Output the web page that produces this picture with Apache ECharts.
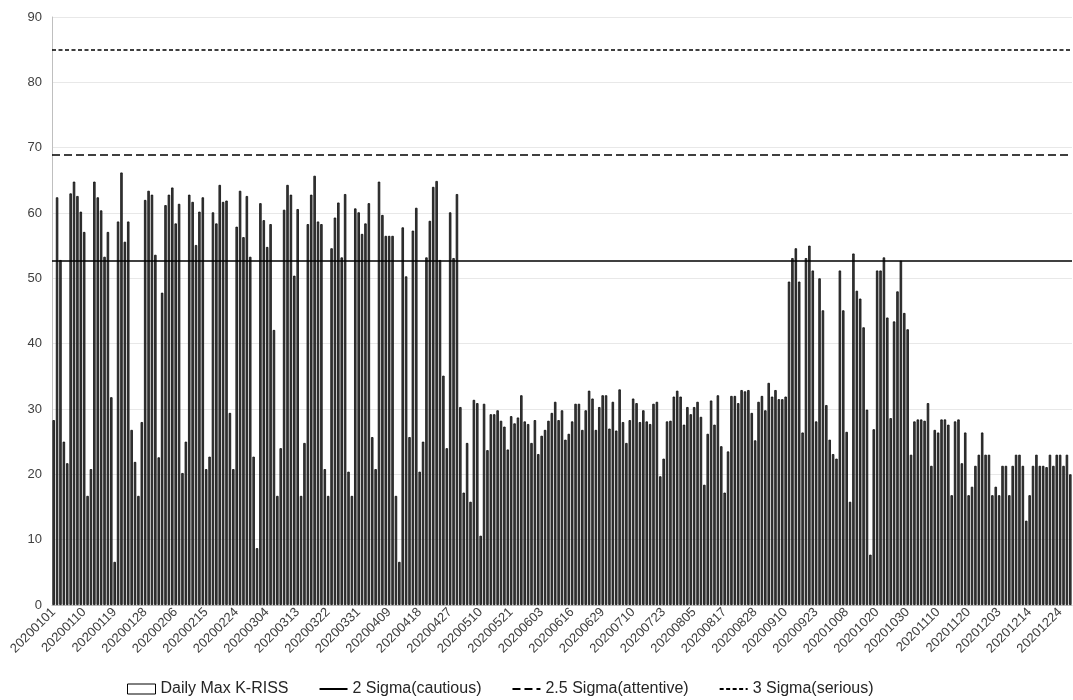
<!DOCTYPE html>
<html>
<head>
<meta charset="utf-8">
<script src="https://cdn.jsdelivr.net/npm/echarts@6/dist/echarts.min.js"></script>
<style>
  html, body { margin: 0; padding: 0; background: #ffffff; }
  #chart { width: 1073px; height: 700px; }
</style>
</head>
<body>
<div id="chart"></div>
<script>
// Dates shown on the category axis (every 9th record)
const tickDates = [
  '20200101','20200110','20200119','20200128','20200206','20200215','20200224',
  '20200304','20200313','20200322','20200331','20200409','20200418','20200427',
  '20200510','20200521','20200603','20200616','20200629','20200710','20200723',
  '20200805','20200817','20200828','20200910','20200923','20201008','20201020',
  '20201030','20201110','20201120','20201203','20201214','20201224'
];

// Daily maximum K-RISS index, one value per record
const dailyMax = [
  28.3, 62.4, 52.8, 25.0, 21.7, 63.0, 64.8, 62.6, 60.2, 57.1,
  16.7, 20.8, 64.8, 62.4, 60.4, 53.3, 57.1, 31.8, 6.6, 58.7,
  66.2, 55.6, 58.7, 26.8, 21.9, 16.7, 28.0, 62.0, 63.4, 62.8,
  53.6, 22.6, 47.8, 61.2, 62.8, 63.9, 58.4, 61.4, 20.2, 25.0,
  62.8, 61.7, 55.1, 60.2, 62.4, 20.8, 22.7, 60.1, 58.4, 64.3,
  61.7, 61.9, 29.4, 20.8, 57.9, 63.4, 56.3, 62.6, 53.3, 22.7,
  8.7, 61.5, 58.9, 54.8, 58.3, 42.1, 16.7, 24.0, 60.5, 64.3,
  62.8, 50.4, 60.6, 16.7, 24.8, 58.3, 62.8, 65.7, 58.7, 58.3,
  20.8, 16.7, 54.6, 59.3, 61.6, 53.2, 62.9, 20.4, 16.7, 60.7,
  60.1, 56.8, 58.4, 61.5, 25.7, 20.8, 64.8, 59.7, 56.5, 56.5,
  56.5, 16.7, 6.6, 57.8, 50.3, 25.7, 57.3, 60.8, 20.4, 25.0,
  53.2, 58.8, 64.0, 64.9, 52.8, 35.1, 24.0, 60.1, 53.1, 62.9,
  30.3, 17.2, 24.8, 15.8, 31.4, 30.9, 10.6, 30.8, 23.7, 29.2,
  29.2, 29.8, 28.2, 27.3, 23.8, 28.9, 27.8, 28.7, 32.1, 28.1,
  27.7, 24.8, 28.3, 23.1, 25.9, 26.8, 28.2, 29.4, 31.1, 28.3,
  29.8, 25.3, 26.2, 28.1, 30.8, 30.8, 26.8, 29.8, 32.8, 31.6,
  26.8, 30.3, 32.1, 32.1, 27.0, 31.1, 26.7, 33.0, 28.0, 24.8,
  28.3, 31.6, 30.9, 28.0, 29.8, 28.1, 27.7, 30.8, 31.1, 19.7,
  22.4, 28.1, 28.2, 31.9, 32.8, 31.9, 27.6, 30.3, 29.2, 30.3,
  31.1, 28.8, 18.4, 26.2, 31.3, 27.6, 32.1, 24.3, 17.2, 23.5,
  32.0, 32.0, 30.9, 32.9, 32.7, 32.9, 29.4, 25.2, 31.1, 32.0,
  29.8, 34.0, 31.9, 32.9, 31.5, 31.5, 31.9, 49.5, 53.1, 54.6,
  49.5, 26.4, 53.1, 55.0, 51.2, 28.1, 50.0, 45.1, 30.6, 25.3,
  23.1, 22.4, 51.2, 45.1, 26.5, 15.8, 53.8, 48.1, 46.9, 42.5,
  29.9, 7.7, 26.9, 51.2, 51.2, 53.2, 44.0, 28.6, 43.4, 48.0,
  52.7, 44.7, 42.2, 23.0, 28.1, 28.4, 28.4, 28.2, 30.9, 21.3,
  26.8, 26.4, 28.4, 28.4, 27.6, 16.8, 28.1, 28.4, 21.7, 26.4,
  16.8, 18.1, 21.3, 23.0, 26.4, 23.0, 23.0, 16.8, 18.1, 16.8,
  21.3, 21.3, 16.8, 21.3, 23.0, 23.0, 21.3, 12.9, 16.8, 21.3,
  23.0, 21.3, 21.3, 21.1, 23.0, 21.3, 23.0, 23.0, 21.3, 23.0,
  20.0
];

// Warning thresholds
const sigmaNames = ['2 Sigma(cautious)', '2.5 Sigma(attentive)', '3 Sigma(serious)'];
const sigmaLevels = [52.7, 68.9, 85.0];
const sigmaDash = ['solid', [8, 4], [4, 2.5]];

const barName = 'Daily Max K-RISS';
const STEP = 9;

function parseYmd(s) {
  return new Date(Date.UTC(+s.slice(0, 4), +s.slice(4, 6) - 1, +s.slice(6, 8)));
}
function fmtYmd(d) {
  const m = String(d.getUTCMonth() + 1).padStart(2, '0');
  const day = String(d.getUTCDate()).padStart(2, '0');
  return d.getUTCFullYear() + m + day;
}

// Record dates: labelled dates every 9th record, the records in between
// spread over the calendar gap between two labelled dates.
const categories = [];
for (let t = 0; t < tickDates.length; t++) {
  const start = parseYmd(tickDates[t]);
  const next = t + 1 < tickDates.length ? parseYmd(tickDates[t + 1]) : null;
  const span = next ? Math.round((next - start) / 86400000) : STEP;
  for (let k = 0; k < STEP && categories.length < dailyMax.length; k++) {
    const d = new Date(start.getTime() + Math.round(k * span / STEP) * 86400000);
    categories.push(fmtYmd(d));
  }
}

const FONT = 'Liberation Sans';
const chart = echarts.init(document.getElementById('chart'), null, { renderer: 'canvas' });

const series = [{
  name: barName,
  type: 'bar',
  data: dailyMax,
  barCategoryGap: '28%',
  itemStyle: { color: '#3f3f3f', borderColor: '#0a0a0a', borderWidth: 0.8 },
  emphasis: { disabled: true },
  silent: true
}];

sigmaLevels.forEach((lvl, i) => {
  series.push({
    name: sigmaNames[i],
    type: 'line',
    data: [],
    symbol: 'none',
    itemStyle: { color: '#000' },
    lineStyle: { color: '#000', width: 1.5, type: sigmaDash[i] },
    markLine: {
      silent: true,
      symbol: ['none', 'none'],
      label: { show: false },
      lineStyle: { color: '#000', width: 1.5, type: sigmaDash[i] },
      data: [{ yAxis: lvl }]
    }
  });
});

// legend entries for the threshold lines: line only, no marker
const lineLegendItem = (name) => ({ name: name, itemStyle: { opacity: 0 } });

chart.setOption({
  animation: false,
  backgroundColor: '#ffffff',
  textStyle: { fontFamily: FONT },
  grid: { left: 52, right: 1, top: 17, bottom: 95, containLabel: false },
  legend: {
    bottom: -2,
    left: 122,
    itemWidth: 28,
    itemHeight: 10,
    itemGap: 30,
    textStyle: { fontFamily: FONT, fontSize: 16, color: '#262626' },
    data: [
      { name: barName, icon: 'rect', itemStyle: { color: '#ffffff', borderColor: '#000', borderWidth: 1 } },
      lineLegendItem(sigmaNames[0]),
      lineLegendItem(sigmaNames[1]),
      lineLegendItem(sigmaNames[2])
    ]
  },
  xAxis: {
    type: 'category',
    data: categories,
    axisLine: { show: true, lineStyle: { color: '#bfbfbf' } },
    axisTick: { show: false },
    axisLabel: {
      interval: STEP - 1,
      rotate: 45,
      fontSize: 13,
      color: '#404040',
      margin: 5,
      fontFamily: FONT
    }
  },
  yAxis: {
    type: 'value',
    min: 0,
    max: 90,
    interval: 10,
    axisLine: { show: true, lineStyle: { color: '#bfbfbf' } },
    axisTick: { show: false },
    splitLine: { show: true, lineStyle: { color: '#e8e8e8' } },
    axisLabel: { fontSize: 13, color: '#404040', margin: 10, fontFamily: FONT }
  },
  series: series
});
</script>
</body>
</html>
